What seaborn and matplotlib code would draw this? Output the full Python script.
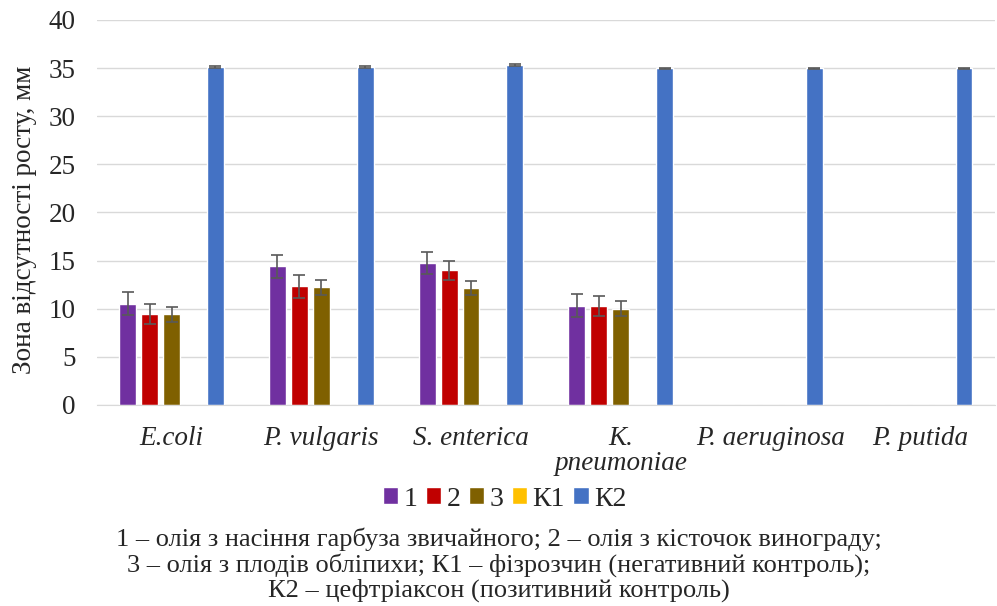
import numpy as np
import pandas as pd
import matplotlib
matplotlib.use("Agg")
import matplotlib.pyplot as plt
import seaborn as sns

# data
strains = ["E.coli", "P. vulgaris", "S. enterica", "K.\npneumoniae", "P. aeruginosa", "P. putida"]
groups = ["1", "2", "3", "К1", "К2"]
oil_1 = [10.5, 14.4, 14.7, 10.3, 0, 0]
oil_2 = [9.4, 12.3, 14.0, 10.3, 0, 0]
oil_3 = [9.4, 12.2, 12.1, 10.0, 0, 0]
k1 = [0, 0, 0, 0, 0, 0]
k2 = [35.1, 35.1, 35.3, 35.0, 35.0, 35.0]
err_1 = [1.2, 1.2, 1.15, 1.2, 0, 0]
err_2 = [1.05, 1.2, 1.0, 1.05, 0, 0]
err_3 = [0.8, 0.75, 0.72, 0.75, 0, 0]
err_k1 = [0, 0, 0, 0, 0, 0]
err_k2 = [0.08, 0.08, 0.1, 0.06, 0.06, 0.06]
colors = ["#7030A0", "#C00000", "#7F6000", "#FFC000", "#4472C4"]

values = [oil_1, oil_2, oil_3, k1, k2]
errors = [err_1, err_2, err_3, err_k1, err_k2]
df = pd.DataFrame({
    "strain": strains * len(groups),
    "group": [g for g in groups for _ in strains],
    "value": [v for vals in values for v in vals],
    "err": [e for errs in errors for e in errs],
})

sns.set_style("white")
plt.rcParams["font.family"] = ["Liberation Serif", "DejaVu Serif"]

fig = plt.figure(figsize=(9.97, 6.06), dpi=100)
ax = fig.add_axes([0.097, 0.332, 0.901, 0.635])

sns.barplot(data=df, x="strain", y="value", hue="group", hue_order=groups,
            palette=colors, width=0.733, gap=0.23, errorbar=None, ax=ax,
            saturation=1, legend=True)

# error bars on top of bars (drawn from the bar patches)
for container, g in zip(ax.containers, groups):
    sub = df[df["group"] == g]
    for patch, (_, row) in zip(container, sub.iterrows()):
        if row["value"] > 0:
            xc = patch.get_x() + patch.get_width() / 2
            ax.errorbar(xc, row["value"], yerr=row["err"], fmt="none",
                        ecolor="#595959", elinewidth=1.2, capsize=4, capthick=1.2)

ax.set_xlim(-0.5, len(strains) - 0.5)
ax.set_ylim(0, 40)
ax.set_yticks(range(0, 41, 5))
ax.yaxis.grid(True, color="#D9D9D9", linewidth=1)
ax.set_axisbelow(True)
for s in ["top", "right", "left"]:
    ax.spines[s].set_visible(False)
ax.spines["bottom"].set_color("#D9D9D9")
ax.tick_params(axis="y", labelsize=19.5, length=0, pad=15)
ax.tick_params(axis="x", labelsize=19.5, length=0, pad=15)
for lab in ax.get_xticklabels():
    lab.set_fontstyle("italic")
    lab.set_linespacing(1.0)
ax.set_xlabel("")
ax.set_ylabel("Зона відсутності росту, мм", fontsize=19.5)
ax.yaxis.set_label_coords(-0.067, 0.48)

handles, labels = ax.get_legend_handles_labels()
ax.legend(handles, labels, loc="center", bbox_to_anchor=(0.454, -0.245),
          ncol=5, frameon=False, fontsize=20, handlelength=0.55, handleheight=0.55,
          handletextpad=0.2, columnspacing=0.3)

fig.text(0.5, 0.006,
         "1 – олія з насіння гарбуза звичайного; 2 – олія з кісточок винограду;\n"
         "3 – олія з плодів обліпихи; К1 – фізрозчин (негативний контроль);\n"
         "К2 – цефтріаксон (позитивний контроль)",
         ha="center", va="bottom", fontsize=19, linespacing=1.1)

fig.savefig("out.png", dpi=100)
